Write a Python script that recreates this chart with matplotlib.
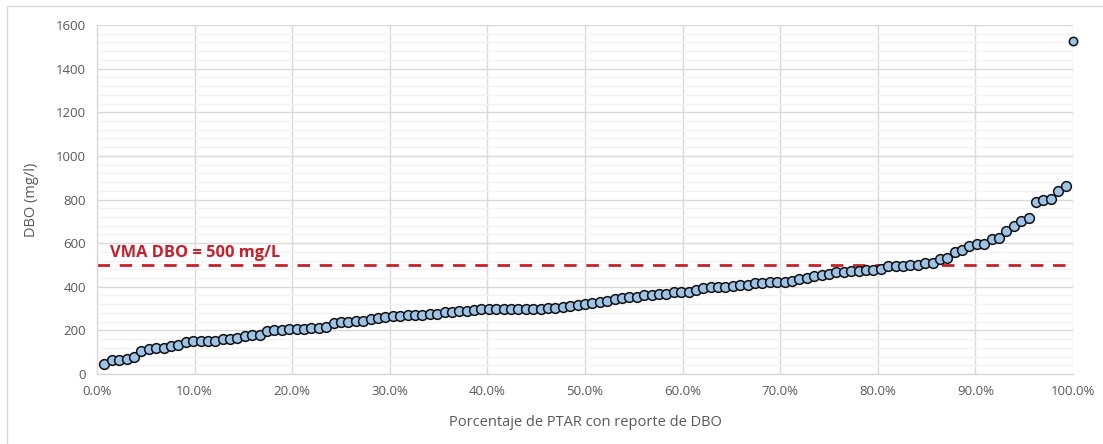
import matplotlib
matplotlib.use("Agg")
import matplotlib.pyplot as plt
import numpy as np
from matplotlib.ticker import MultipleLocator, PercentFormatter
from matplotlib.patches import Rectangle

# BOD reported by each treatment plant, sorted ascending (mg/l)
dbo_values = [
    48, 62, 65, 68, 76, 106, 115, 118, 120, 129,
    132, 148, 151, 152, 152, 153, 160, 160, 163, 175,
    178, 180, 198, 201, 203, 205, 206, 207, 210, 213,
    214, 236, 240, 240, 242, 244, 252, 256, 262, 265,
    266, 269, 270, 272, 274, 276, 284, 286, 287, 289,
    295, 296, 297, 297, 297, 298, 298, 298, 300, 300,
    301, 303, 308, 311, 317, 320, 326, 332, 335, 342,
    350, 353, 355, 361, 364, 365, 366, 375, 377, 378,
    387, 396, 397, 398, 400, 402, 406, 408, 415, 418,
    420, 423, 424, 425, 435, 442, 447, 455, 458, 468,
    468, 471, 474, 477, 479, 483, 494, 496, 497, 498,
    500, 507, 511, 527, 533, 558, 570, 588, 595, 597,
    620, 625, 655, 678, 702, 715, 789, 797, 802, 839,
    864, 1525,
]
limit_value = 500
limit_label = "VMA DBO = 500 mg/L"
x_label = "Porcentaje de PTAR con reporte de DBO"
y_label = "DBO (mg/l)"

n = len(dbo_values)
cum_share = [(i + 1) / n for i in range(n)]

plt.rcParams["font.family"] = ["Open Sans", "DejaVu Sans"]

fig = plt.figure(figsize=(11.03, 4.44), dpi=100)
fig.patch.set_facecolor("white")
fig.patches.append(Rectangle((7 / 1103, -0.05), 1.2, 1 - 6 / 444 + 0.05,
                             transform=fig.transFigure, fill=False,
                             edgecolor="#d9d9d9", linewidth=1.0))

ax = fig.add_axes([97 / 1103, 1 - 374 / 444, 976 / 1103, 349 / 444])
ax.set_xlim(0, 1)
ax.set_ylim(0, 1600)

ax.xaxis.set_major_locator(MultipleLocator(0.1))
ax.xaxis.set_major_formatter(PercentFormatter(xmax=1, decimals=1))
ax.yaxis.set_major_locator(MultipleLocator(200))
ax.yaxis.set_minor_locator(MultipleLocator(40))

ax.grid(which="major", axis="both", color="#d9d9d9", linewidth=1.0)
ax.grid(which="minor", axis="y", color="#f2f2f2", linewidth=1.0)
ax.set_axisbelow(True)
for side in ["top", "right"]:
    ax.spines[side].set_visible(False)
for side in ["left", "bottom"]:
    ax.spines[side].set_color("#d9d9d9")
    ax.spines[side].set_linewidth(1.0)

ax.tick_params(which="both", length=0, colors="#595959", labelsize=9.5)
ax.tick_params(axis="x", pad=8)
ax.tick_params(axis="y", pad=8)

ax.set_xlabel(x_label, color="#595959", fontsize=10.5, labelpad=12)
ax.set_ylabel(y_label, color="#595959", fontsize=10.5, labelpad=12)

# limit line
ax.axhline(limit_value, color="#c8202b", linewidth=2.0,
           linestyle=(0, (4.5, 3.5)), zorder=2)
ax.text(0.013, limit_value + 20, limit_label, color="#c8202b",
        fontsize=11.8, fontweight="bold", ha="left", va="bottom")

# sorted BOD points
ax.plot(cum_share[:-1], dbo_values[:-1], linestyle="none", marker="o",
        markersize=7, markerfacecolor="#9dc3e6", markeredgecolor="#111111",
        markeredgewidth=1.1, zorder=3, clip_on=False)
ax.plot(cum_share[-1:], dbo_values[-1:], linestyle="none", marker="o",
        markersize=6, markerfacecolor="#9dc3e6", markeredgecolor="#111111",
        markeredgewidth=1.1, zorder=3, clip_on=False)

fig.savefig("out.png", dpi=100, facecolor="white")
